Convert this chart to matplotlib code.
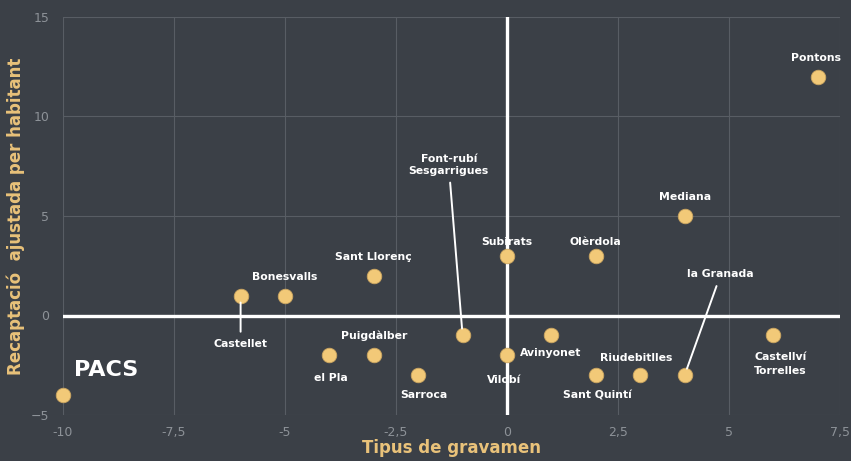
import matplotlib.pyplot as plt
import numpy as np

BG = "#3b4047"
GRID = "#585d64"
GOLD = "#e9c27a"
DOT = "#f2c978"
TICK = "#8d9298"

# municipalities: (tax rate index, adjusted revenue per inhabitant)
names = [
    "Pontons", "Mediana", "Olèrdola", "Subirats", "Sant Llorenç", "Bonesvalls",
    "Castellet", "Font-rubí\nSesgarrigues", "Avinyonet", "Castellví\nTorrelles",
    "Puigdàlber", "el Pla", "Vilobí", "Sarroca", "Sant Quintí", "Riudebitlles",
    "la Granada", "PACS",
]
x_vals = [7, 4, 2, 0, -3, -5, -6, -1, 1, 6, -3, -4, 0, -2, 2, 3, 4, -10]
y_vals = [12, 5, 3, 3, 2, 1, 1, -1, -1, -1, -2, -2, -2, -3, -3, -3, -3, -4]

x_ticks = [-10, -7.5, -5, -2.5, 0, 2.5, 5, 7.5]
x_tick_labels = ["-10", "-7,5", "-5", "-2,5", "0", "2,5", "5", "7,5"]
y_ticks = [-5, 0, 5, 10, 15]

# label placement in points relative to marker, alignment, leader line
label_style = {
    "Pontons": ((-1, 10), "center", "bottom", False),
    "Mediana": ((0, 10), "center", "bottom", False),
    "Olèrdola": ((0, 6), "center", "bottom", False),
    "Subirats": ((0, 6), "center", "bottom", False),
    "Sant Llorenç": ((0, 10), "center", "bottom", False),
    "Bonesvalls": ((0, 10), "center", "bottom", False),
    "Castellet": ((0, -31), "center", "top", True),
    "Font-rubí\nSesgarrigues": ((-10, 115), "center", "bottom", True),
    "Avinyonet": ((-23, -13), "left", "center", False),
    "Castellví\nTorrelles": ((5, -12), "center", "top", False),
    "Puigdàlber": ((0, 10), "center", "bottom", False),
    "el Pla": ((1, -13), "center", "top", False),
    "Vilobí": ((-2, -14), "center", "top", False),
    "Sarroca": ((4, -11), "center", "top", False),
    "Sant Quintí": ((1, -11), "center", "top", False),
    "Riudebitlles": ((-3, 9), "center", "bottom", False),
    "la Granada": ((26, 69), "center", "bottom", True),
}

fig = plt.figure(figsize=(8.51, 4.61), dpi=100, facecolor=BG)
ax = fig.add_axes([63 / 851, 1 - 415 / 461, 777 / 851, 398 / 461], facecolor=BG)

ax.set_xlim(-10, 7.5)
ax.set_ylim(-5, 15)
ax.set_xticks(x_ticks)
ax.set_xticklabels(x_tick_labels)
ax.set_yticks(y_ticks)
ax.grid(True, color=GRID, linewidth=0.8)
ax.set_axisbelow(True)
for s in ax.spines.values():
    s.set_visible(False)
ax.tick_params(length=0, colors=TICK, labelsize=9)
ax.tick_params(axis="x", pad=8)
ax.tick_params(axis="y", pad=10)

ax.axhline(0, color="white", linewidth=2.4, zorder=2)
ax.axvline(0, color="white", linewidth=2.4, zorder=2)

ax.scatter(x_vals, y_vals, s=110, color=DOT, edgecolor="#c9a460", linewidth=0.6,
           zorder=4, clip_on=False)

for name, xv, yv in zip(names, x_vals, y_vals):
    if name == "PACS":
        ax.annotate(name, (xv, yv), xytext=(8, 11), textcoords="offset points",
                    color="white", fontsize=16, fontweight="bold",
                    ha="left", va="bottom", zorder=5)
        continue
    off, ha, va, leader = label_style[name]
    kw = {}
    if leader:
        kw["arrowprops"] = dict(arrowstyle="-", color="white", lw=1.4,
                                shrinkA=3, shrinkB=5)
    ax.annotate(name, (xv, yv), xytext=off, textcoords="offset points",
                color="white", fontsize=7.8, fontweight="bold", ha=ha, va=va,
                linespacing=1.45 if "Castellví" in name else 1.15,
                zorder=5, **kw)

ax.set_xlabel("Tipus de gravamen", color=GOLD, fontsize=12, fontweight="bold",
              labelpad=0)
ax.set_ylabel("Recaptació  ajustada per habitant", color=GOLD, fontsize=12,
              fontweight="bold", labelpad=4)

fig.savefig("out.png", dpi=100, facecolor=BG)
